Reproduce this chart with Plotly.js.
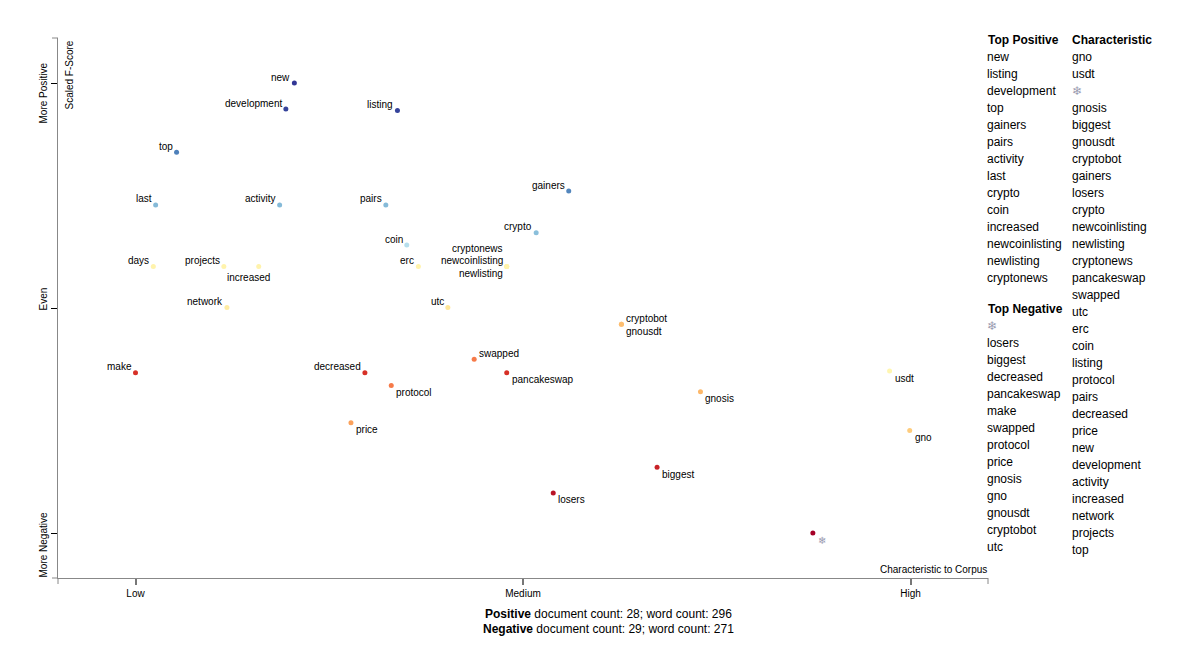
<!DOCTYPE html>
<html>
<head>
<meta charset="utf-8">
<script src="https://cdn.plot.ly/plotly-3.0.1.min.js"></script>
<style>html,body{margin:0;padding:0;background:#fff;}#chart{width:1200px;height:650px;}</style>
</head>
<body>
<div id="chart"></div>
<script>
// ---- data ----
const terms = ["new","development","listing","top","gainers","last","activity","pairs","crypto","coin",
  "days","projects","increased","erc","cryptonews","newcoinlisting","newlisting","network","utc",
  "cryptobot","gnousdt","swapped","make","decreased","pancakeswap","protocol","usdt","gnosis","price",
  "gno","biggest","losers","\u2744"];
// characteristic-to-corpus (0 = Low, 0.5 = Medium, 1 = High)
const charScore = [0.205,0.194,0.338,0.053,0.559,0.026,0.186,0.323,0.517,0.350,
  0.023,0.114,0.159,0.365,0.479,0.479,0.479,0.118,0.403,
  0.627,0.627,0.437,0.000,0.296,0.479,0.330,0.973,0.729,0.278,
  0.999,0.673,0.539,0.874];
// scaled F-score (0 = More Negative, 0.5 = Even, 1 = More Positive)
const fScore = [1.000,0.942,0.939,0.846,0.760,0.729,0.729,0.729,0.667,0.640,
  0.592,0.592,0.592,0.592,0.592,0.592,0.592,0.501,0.501,
  0.464,0.464,0.386,0.356,0.356,0.356,0.328,0.360,0.314,0.245,
  0.228,0.146,0.089,0.000];
// colour score
const colorScore = [1.00,0.98,0.98,0.88,0.87,0.77,0.77,0.77,0.76,0.68,
  0.46,0.46,0.46,0.46,0.46,0.46,0.46,0.44,0.42,
  0.33,0.33,0.22,0.10,0.10,0.10,0.22,0.47,0.32,0.28,
  0.36,0.07,0.04,0.00];
const xTickLabels = ["Low","Medium","High"];
const yTickLabels = ["More Negative","Even","More Positive"];
const yTickVals = [0,0.5,1];
const topPositive = ["new","listing","development","top","gainers","pairs","activity","last","crypto","coin",
  "increased","newcoinlisting","newlisting","cryptonews"];
const topNegative = ["\u2744","losers","biggest","decreased","pancakeswap","make","swapped","protocol","price",
  "gnosis","gno","gnousdt","cryptobot","utc"];
const characteristic = ["gno","usdt","\u2744","gnosis","biggest","gnousdt","cryptobot","gainers","losers","crypto",
  "newcoinlisting","newlisting","cryptonews","pancakeswap","swapped","utc","erc","coin","listing","protocol",
  "pairs","decreased","price","new","development","activity","increased","network","projects","top"];
const posDocs = 28, posWords = 296, negDocs = 29, negWords = 271;

// ---- label placement (style) ----
const placement = ["ul","ul","ul","ul","ul","ul","ul","ul","ul","ul",
  "ul","ul","inc","ul","ulhi","ul","ll","ul","ul",
  "ur","lr","ur","ul","ul","lr","lr","lr","lr","lr",
  "lr","lr","lr","lr"];
const PLACE = {
  ul:{xanchor:"right",xshift:-2,yshift:6},
  ulhi:{xanchor:"right",xshift:-2,yshift:18},
  ll:{xanchor:"right",xshift:-2,yshift:-7},
  ur:{xanchor:"left",xshift:3,yshift:6},
  lr:{xanchor:"left",xshift:3,yshift:-7},
  inc:{xanchor:"right",xshift:13,yshift:-11}
};
const RdYlBu = [[0,"#a50026"],[0.1,"#d73027"],[0.2,"#f46d43"],[0.3,"#fdae61"],[0.4,"#fee090"],
  [0.5,"#ffffbf"],[0.6,"#e0f3f8"],[0.7,"#abd9e9"],[0.8,"#74add1"],[0.9,"#4575b4"],[1,"#313695"]];
const FONT = "Liberation Sans, Arial, sans-serif";

const trace = {
  type:"scatter", mode:"markers", x:charScore, y:fScore, text:terms, hoverinfo:"text",
  marker:{size:5, color:colorScore, colorscale:RdYlBu, cmin:0, cmax:1, line:{width:0}}
};

const annotations = [];
terms.forEach((t,i)=>{
  const p = PLACE[placement[i]];
  annotations.push({xref:"x",yref:"y",x:charScore[i],y:fScore[i],text:t,showarrow:false,
    xanchor:p.xanchor,yanchor:"middle",xshift:p.xshift,yshift:p.yshift,
    font:{family:FONT,size:10,color:t==="\u2744"?"#9a9ab0":"#000"}});
});
// plot area pixels: x 58..988, y 38..578
const px = v => (v-58)/930;
const py = v => (578-v)/540;
function listItem(text,xp,yp,bold){
  annotations.push({xref:"paper",yref:"paper",x:px(xp),y:py(yp),text:bold?"<b>"+text+"</b>":text,
    showarrow:false,xanchor:"left",yanchor:"middle",
    font:{family:FONT,size:12,color:text==="\u2744"?"#9a9ab0":"#000"}});
}
listItem("Top Positive",986,40,true);
topPositive.forEach((t,i)=>listItem(t,985,57+17*i,false));
listItem("Top Negative",986,309,true);
topNegative.forEach((t,i)=>listItem(t,985,326+17*i,false));
listItem("Characteristic",1070,40,true);
characteristic.forEach((t,i)=>listItem(t,1070,57+17*i,false));

// y-axis labels (rotated, end of text 21px above tick)
yTickLabels.forEach((t,i)=>{
  annotations.push({xref:"paper",yref:"y",x:px(43),y:yTickVals[i],yshift:22,text:t,textangle:-90,
    showarrow:false,xanchor:"center",yanchor:"top",font:{family:FONT,size:10,color:"#000"}});
});

annotations.push({xref:"paper",yref:"paper",x:0,y:1,xshift:11,yshift:-1,text:"Scaled F-Score",textangle:-90,
  showarrow:false,xanchor:"center",yanchor:"top",font:{family:FONT,size:10,color:"#000"}});
annotations.push({xref:"paper",yref:"paper",x:1,y:py(569),xshift:1,text:"Characteristic to Corpus",
  showarrow:false,xanchor:"right",yanchor:"middle",font:{family:FONT,size:10,color:"#000"}});
annotations.push({xref:"paper",yref:"paper",x:px(608),y:py(614),
  text:"<b>Positive</b> document count: "+posDocs+"; word count: "+posWords,
  showarrow:false,xanchor:"center",yanchor:"middle",font:{family:FONT,size:12,color:"#000"}});
annotations.push({xref:"paper",yref:"paper",x:px(608),y:py(629),
  text:"<b>Negative</b> document count: "+negDocs+"; word count: "+negWords,
  showarrow:false,xanchor:"center",yanchor:"middle",font:{family:FONT,size:12,color:"#000"}});

const endTick = {type:"line",xref:"paper",yref:"paper",line:{color:"#888",width:1}};
const shapes = [
  Object.assign({},endTick,{x0:0,x1:0,y0:0,y1:-6/540}),
  Object.assign({},endTick,{x0:1,x1:1,y0:0,y1:-6/540}),
  Object.assign({},endTick,{x0:0,x1:-6/930,y0:0,y1:0}),
  Object.assign({},endTick,{x0:0,x1:-6/930,y0:1,y1:1})
];

const layout = {
  width:1200,height:650,margin:{l:58,r:212,t:38,b:72},
  paper_bgcolor:"#fff",plot_bgcolor:"#fff",showlegend:false,
  font:{family:FONT,size:10,color:"#000"},
  xaxis:{range:[-0.1,1.1],tickvals:[0,0.5,1],ticktext:xTickLabels,showgrid:false,zeroline:false,
    showline:true,linecolor:"#888",linewidth:1,ticks:"outside",ticklen:6,tickwidth:2,tickcolor:"#777",
    tickfont:{family:FONT,size:10,color:"#000"},fixedrange:true},
  yaxis:{range:[-0.1,1.1],tickvals:yTickVals,showticklabels:false,showgrid:false,zeroline:false,
    showline:true,linecolor:"#888",linewidth:1,ticks:"outside",ticklen:6,tickwidth:1,tickcolor:"#000",
    fixedrange:true},
  annotations:annotations, shapes:shapes
};
Plotly.newPlot("chart",[trace],layout,{displayModeBar:false,staticPlot:true});
</script>
</body>
</html>
